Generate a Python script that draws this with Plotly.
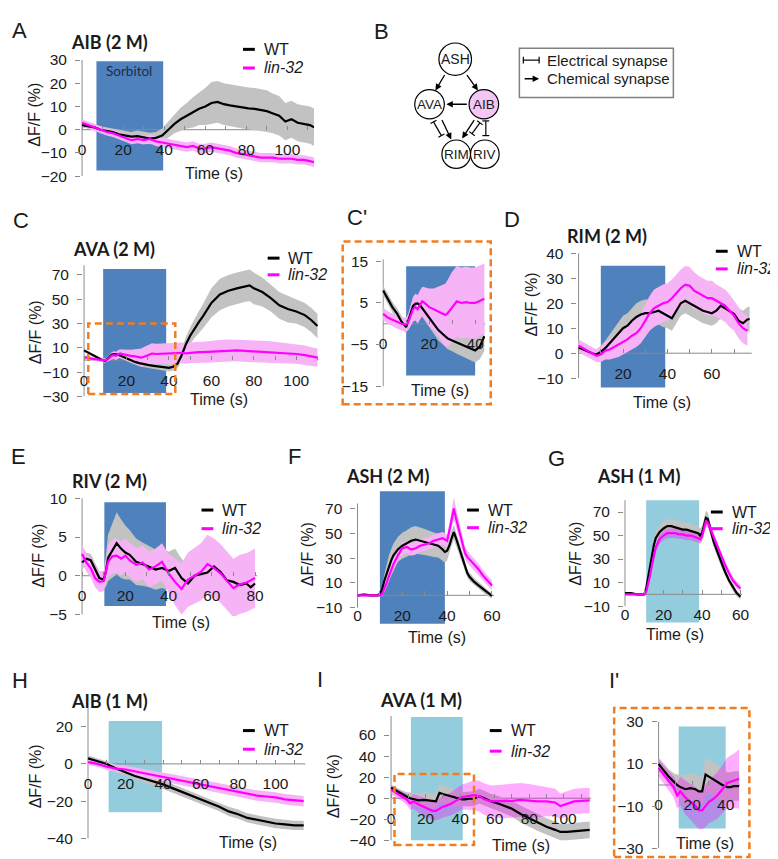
import math
import plotly.graph_objects as go

W, H = 778, 859

# ================= DATA =================
# A: AIB (2 M)
A_t = [0,3,6,9,12,15,18,21,24,27,30,33,36,39,42,45,48,51,54,57,60,63,66,69,72,75,78,81,84,87,90,93,96,99,102,105,108,111,113]
A_wt = [2,1.5,1,0,-0.5,-1,-2,-2.5,-3,-2.8,-3.2,-3.8,-3.5,-2.5,0,2.5,4.5,6,7.5,9,10,11.5,12,11,10.5,10,9.5,9.2,9,8.5,8,7,6,3.5,4.5,3,2.5,2,1]
A_wt_sem = [1,1,1,1.5,1.5,1.5,2,2,2,2.5,2.5,2.5,2.5,3,3.5,4,5,5.5,6.5,7,8,9,9,9,9,9,9,9,9,9,9,8.5,8.5,8,8,8,8,8,8]
A_lin = [3,2,1,0,-1,-1.5,-2.5,-3.5,-4.5,-4,-4.5,-4,-5,-5.5,-6,-6.5,-7,-7.5,-7,-8,-8,-7.5,-8,-8.5,-9,-10,-10.5,-11,-11.5,-12,-12,-12,-12.5,-12.5,-12.5,-13,-13,-13.5,-14]
A_lin_sem = [1.5,1.5,1.5,1.5,1.5,1.6,1.6,1.7,1.8,1.8,1.9,1.9,2,2,2,2,2,2,2,2,2,2,2,2,2,2,2,2,2,2,2,2,2,2,2,2,2,2,2]
A_stim = [7, 39.5]

# C / C': AVA (2 M)
C_t = [0,2,4,6,8,10,11,12,13,14,15,16,17,18,20,22,24,26,27,28,30,32,34,36,38,40,42,44,46,48,50,52,54,56,60,64,68,72,76,78,80,84,88,92,96,100,104,107,110]
C_wt = [8,6,4,2.5,0.5,-0.8,1,3,4.3,4.8,4.9,4.5,3.8,3,1.5,0,-1.5,-2.5,-3,-3.5,-4,-4.5,-5,-5.5,-6,-6.4,-5.5,-3,4,13,20,26,31,36,47,54,57,59,61,61.5,59,56,51,45,42,40,37,33,28]
C_wt_sem = [1.2,1.2,1.3,1.3,1.4,1.5,1.5,1.6,1.8,2,2,2,2.2,2.2,2.3,2.4,2.5,2.5,2.5,2.6,2.6,2.7,2.7,2.8,2.8,2.9,3,3.5,5,6,7,8,9,10,12,13,13,13,13,13,13,12,11,11,11,10,10,10,10]
C_lin = [2.4,1.5,1,0.5,0,-0.2,0.5,2,3.5,4,3.5,4.5,5.4,5,4,3.5,3,2.5,2.1,2.5,4,5.4,5,5.2,5,5,5.5,6,6,5.5,6,6.2,6.5,6.5,7,7.5,8,8,7.5,7.3,7,7,6.5,6,5.5,5,4,3,2]
C_lin_sem = [1.5,1.5,1.5,1.6,1.6,1.7,2,2.5,3,3.2,3.4,3.5,3.5,3.8,4.5,5,6,7,7.5,8,8.5,8.5,8.5,8.5,8.5,8.5,8.5,8.5,8.5,8.5,8.5,8.5,8.5,8.5,9,9,9,9,9,9,9,9,9,8.5,8.5,8,8,7.5,7.5]
C_stim = [9, 38.7]
Cz_stim = [10, 40]

# D: RIM (2 M)
D_t = [0,2,4,6,8,10,12,14,16,18,20,22,24,26,28,30,32,34,36,38,40,42,44,46,48,50,52,54,56,58,60,62,64,66,68,70,72,74,76,77]
D_wt = [2.3,1.5,0.5,0,-0.5,0.5,2,4,6,8,10,11,13,14.5,15.5,16,16,16.5,17,16,15,14,17,20,21,20,19,18,17,16.5,16,17,19,18,17,15.7,13,12,13.5,13.7]
D_wt_sem = [2,2,2,2,2,2.5,3,3.5,4,4.5,5,5,5,5.5,5.5,5.5,5.5,5.5,5.5,5.5,5,5,5,5,5,5,5,5,5,5,5,5,5,5,5,5,5,5,5,5]
D_lin = [3,2,1,0,-1,-0.5,1,1.5,2.5,3.5,4.5,5.5,7,8,10,13,16,18,19,20,20.5,22,24,26,27.4,27,25,24,23,22,22,21,20,19,17,15,12,10,9]
D_lin_sem = [2.5,2.5,2.5,2.5,2.5,3,3.5,4,4.5,5,5,5,5.5,5.5,6,6.5,7,7.5,7.5,7.5,7.5,7.5,7.5,7.5,7.5,7.5,7.5,7,7,7,7,6.5,6.5,6.5,6.5,6,6,6,6]
D_stim = [10, 39]

# E: RIV (2 M)
E_t = [0,2,4,6,8,10,11,12,14,16,18,20,22,25,28,31,34,37,40,43,46,49,52,55,58,61,64,67,70,73,76,78,80]
E_wt = [1.7,2.2,2.0,0.8,-0.3,-0.5,0.5,2.3,3.2,4.2,3.5,3.0,2.7,1.8,1.5,1.2,0.8,1.0,0.6,1.0,-0.3,-1.0,0.0,0.2,0.4,1.2,0.5,-0.6,-0.8,-1.2,-1.0,-1.5,-1.0]
E_wt_sem = [0.8,0.8,0.8,0.8,0.8,1,2,3,3.5,4,3.8,3.5,3.2,3,2.8,2.7,2.6,2.6,2.5,2.5,2.5,2.4,2.4,2.4,2.4,2.3,2.3,2.2,2.2,2.2,2.1,2.1,2.1]
E_lin = [2.8,1.7,1.0,-0.3,-0.8,-0.7,0.5,1.8,2.5,2.6,2.2,2.6,2.0,1.4,1.7,0.8,1.2,1.8,0.3,-0.8,-1.7,-0.5,0.0,0.5,1.5,1.0,0.3,-0.6,-1.6,-1.1,-0.9,-0.6,-0.3]
E_lin_sem = [1.2,1.2,1.2,1.2,1.3,1.3,1.5,2,2.2,2.2,2.2,2.2,2.2,2.2,2.2,2.3,2.3,2.4,2.5,3,3.3,3.5,3.6,3.7,3.8,3.8,3.8,3.8,3.8,3.8,3.8,3.8,3.8]
E_stim = [10.3, 38.8]

# F: ASH (2 M)
F_t = [0,3,6,9,10,11,12,13,14,15,16,18,20,22,24,26,28,30,32,34,36,38,39,40,41,42,43,44,45,46,47,48,49,50,52,54,56,58,60]
F_wt = [0,0.5,0,0,1,5,12,18,24,28,32,37,40,42,44,45,44,43,42,41,40,37,35,36,40,46,51,46,40,34,28,23,18,15,11,8,5,2,-0.5]
F_wt_sem = [1,1,1,1,1.5,3,5,7,8,9,9.5,10,10.5,10.5,11,11,11,10.5,10,10,9.5,9,8.5,8,7,6,6,5,5,4.5,4,4,3.5,3.5,3,3,2.5,2.5,2]
F_lin = [0,0,-0.5,0,0,1,5,10,15,20,25,32,38,39,37,38,40,41,42,44,45,46,45,44,52,62,70,62,55,47,40,34,31,29,25,21,16,12,8]
F_lin_sem = [1,1,1,1,1,1.5,2.5,3.5,4,4.5,5,5,5,5,5,5,5,5,5,5,5,5,5,5,6,7,9,8,7,6,5.5,5,5,5,4.5,4.5,4,4,4]
F_stim = [10, 39]

# G: ASH (1 M)
G_t = [0,3,6,9,10,11,12,13,14,15,16,18,20,22,24,26,28,30,32,34,36,38,39,40,41,42,43,44,45,46,48,50,52,54,56,58,60]
G_wt = [1,1,0,0,0,5,15,25,35,42,48,53,56,58,58,57,56,55,55,54,53,52,50,52,58,65,64,58,52,45,36,27,19,12,6,1,-2]
G_wt_sem = [1,1,1,1,1,2,3,4,5,5,5.5,6,6,6,6,6,6,6,6,6,6,6,6,6,6,6,5.5,5,5,4.5,4,4,3.5,3,3,2.5,2.5]
G_lin = [0,0,0,0,0,2,8,16,25,33,40,47,50,52,52,52,51,51,50,50,49,48,47,49,55,62,61,57,53,48,40,32,25,18,12,8,5]
G_lin_sem = [1,1,1,1,1,1.5,2.5,3,3.5,4,4,4,4,4,4,4,4,4,4,4,4,4,4,4,4,4.5,4.5,4,4,4,3.5,3.5,3,3,3,3,3]
G_stim = [11, 38.5]

# H: AIB (1 M)
H_t = [0,5,10,15,20,25,30,35,40,45,50,55,60,65,70,75,80,85,90,95,100,105,110,115]
H_wt = [3,1.5,0,-2.5,-4.5,-6.5,-8,-9.5,-11,-13,-15,-17,-19,-21,-23,-25.5,-27,-29,-30,-31,-32,-32.5,-33,-33]
H_wt_sem = [1.5,1.5,1.5,1.8,2,2,2,2,2.2,2.2,2.2,2.2,2.4,2.4,2.4,2.5,2.5,2.5,2.5,2.5,2.5,2.5,2.5,2.5]
H_lin = [1,0,-1.5,-2.5,-3,-4,-5,-6,-7,-8,-9,-10,-11,-12,-13,-14,-15,-16,-17,-17.5,-18,-19,-19.5,-20]
H_lin_sem = [1.5,1.5,1.8,2,2,2.2,2.2,2.4,2.4,2.5,2.5,2.5,2.6,2.6,2.6,2.7,2.7,2.7,2.8,2.8,2.8,2.8,2.8,2.8]
H_stim = [11, 39.5]

# I / I': AVA (1 M)
I_t = [0,3,6,9,11,13,16,19,22,24,26,27,28,30,32,35,38,41,43,45,48,51,54,58,62,66,70,75,80,85,90,95,98,102,106,110,115]
I_wt = [10,7,4,1.6,0,-1,-2,-1.5,-2,-3,-3,1,5,4,3,1.5,0,-1,-1,-0.5,-0.5,2,0,-3,-5,-7.5,-10,-15,-19,-23,-27,-30,-32,-32,-31.5,-31,-30]
I_wt_sem = [3,3,3.5,4,5,6,6.5,7,7,7,7,7.5,8,8,8,8,7.5,7,7,7,7,7,7,7,7,7.5,7.5,8,8,8,8,8,8,8,8,8,8]
I_lin = [8,5,2,-1,-5,-3,-6,-8,-10,-12,-12,-11,-10,-8,-7,-5,-2,1,1.5,2,3,2,-1,-3,-3,-3,-2.5,-1.5,-2.5,-3,-3,-4,-7.5,-5,-3,-2.5,-2]
I_lin_sem = [4,4,4.5,5,6,7,8,8.5,9,9,9,9.5,10,10,10.5,11,11.5,12,12.5,13,14,14.5,15,15,15.5,16,16,16,16,15,14,13,12,12,12,12,12]
I_stim = [11.5, 41.5]
Iz_stim = [12, 40]

# ================= STYLE =================
BLUE = '#4f81bd'
TEAL = '#93cddd'
GRAY = '#c2c2c2'
PINK = '#f6b3f6'
PINK_T = 'rgba(255,0,255,0.32)'
MAG = '#ff00ff'
AXC = '#8a8a8a'
ORANGE = '#f07d22'
FONT = 'Liberation Sans'
TFONT = 'Lato'
TXT = '#1a1a1a'

fig = go.Figure()
layout = {}
shapes = []
annos = []


def PX(x):
    return x / W


def PY(y):
    return 1 - y / H


def text(x, y, s, size=15, family=FONT, xanchor='center', angle=0, color=TXT):
    annos.append(dict(x=PX(x), y=PY(y), xref='paper', yref='paper', text=s, showarrow=False,
                      xanchor=xanchor, yanchor='middle', textangle=angle,
                      font=dict(family=family, size=size, color=color)))


def seg(x0, y0, x1, y1, color='black', width=1.2, dash='solid'):
    shapes.append(dict(type='line', xref='paper', yref='paper', x0=PX(x0), y0=PY(y0),
                       x1=PX(x1), y1=PY(y1), line=dict(color=color, width=width, dash=dash)))


def xticks(maxv, skip0=False):
    vals = list(range(0, maxv + 1, 10))
    txt = [str(v) if (v % 20 == 0 and not (skip0 and v == 0)) else '' for v in vals]
    return vals, txt


def add_panel(i, t, wt, wts, lin, lins, stim, stim_col, box_y, geo, xmax_tick, yt, yline,
              pink, skip0=False, tmax=None):
    xs = '' if i == 1 else str(i)
    xa, ya = 'x' + xs, 'y' + xs
    x0, kx, xr, y0, ky, yr = geo
    n = len(t) if tmax is None else len([v for v in t if v <= tmax])
    tw = list(t[:min(n, len(wt))])
    tl = list(t[:min(n, len(lin))])
    wt, wts = wt[:len(tw)], wts[:len(tw)]
    lin, lins = lin[:len(tl)], lins[:len(tl)]

    def band(tt, mean, sem, color):
        up = [m + s for m, s in zip(mean, sem)]
        lo = [m - s for m, s in zip(mean, sem)]
        fig.add_trace(go.Scatter(x=tt + tt[::-1], y=up + lo[::-1], fill='toself', fillcolor=color,
                                 line=dict(width=0), mode='lines', hoverinfo='skip',
                                 xaxis=xa, yaxis=ya))

    band(tw, wt, wts, GRAY)
    band(tl, lin, lins, pink)
    fig.add_trace(go.Scatter(x=tw, y=wt, mode='lines', line=dict(color='black', width=2.2),
                             xaxis=xa, yaxis=ya, hoverinfo='skip'))
    fig.add_trace(go.Scatter(x=tl, y=lin, mode='lines', line=dict(color=MAG, width=2.2),
                             xaxis=xa, yaxis=ya, hoverinfo='skip'))

    xv, xtxt = xticks(xmax_tick, skip0)
    tickfont = dict(family=FONT, size=15.5, color=TXT)
    layout['xaxis' + xs] = dict(domain=[PX(x0 + kx * xr[0]), PX(x0 + kx * xr[1])], range=xr,
                                anchor='free', position=PY(y0), tickvals=xv, ticktext=xtxt,
                                tickmode='array', tickangle=0,
                                ticks='inside', ticklen=4, tickcolor=AXC, tickwidth=1,
                                showline=False, showgrid=False, zeroline=False,
                                tickfont=tickfont, ticklabelstandoff=9, fixedrange=True)
    layout['yaxis' + xs] = dict(domain=[PY(y0 - ky * yr[0]), PY(y0 - ky * yr[1])], range=yr,
                                anchor=xa, tickvals=yt, tickmode='array', tickangle=0,
                                ticks='outside', ticklen=5,
                                tickcolor=AXC, tickwidth=1, showline=False, showgrid=False,
                                zeroline=False, tickfont=tickfont, ticklabelstandoff=5,
                                fixedrange=True)
    # stimulus box
    shapes.append(dict(type='rect', xref=xa, yref=ya, x0=stim[0], x1=stim[1], y0=box_y[0],
                       y1=box_y[1], fillcolor=stim_col, line=dict(width=0), layer='below'))
    # axis lines
    shapes.append(dict(type='line', xref=xa, yref=ya, x0=0, x1=0, y0=yline[0], y1=yline[1],
                       line=dict(color=AXC, width=1), layer='below'))
    shapes.append(dict(type='line', xref=xa, yref=ya, x0=0, x1=xr[1], y0=0, y1=0,
                       line=dict(color=AXC, width=1), layer='below'))
    return xa, ya


# ---- panels ----
add_panel(1, A_t, A_wt, A_wt_sem, A_lin, A_lin_sem, A_stim, BLUE, [-17.5, 29.5],
          (72, 2.08, [-0.5, 113], 115, 2.37, [-20, 30]), 110, [-20, -10, 0, 10, 20, 30],
          [-20, 30], PINK)
xaC, yaC = add_panel(2, C_t, C_wt, C_wt_sem, C_lin, C_lin_sem, C_stim, BLUE, [-27, 75],
                     (74, 2.15, [-0.5, 110.5], 350, 1.24, [-30, 80]), 110,
                     [-30, -10, 10, 30, 50, 70], [-30, 78], PINK)
add_panel(3, C_t, C_wt, C_wt_sem, C_lin, C_lin_sem, Cz_stim, BLUE, [-12.4, 13.8],
          (377, 2.33, [-0.4, 44.5], 313, 4.25, [-15.5, 15.5]), 40, [-15, -5, 5, 15],
          [-15, 15.5], PINK, tmax=44.5)
add_panel(4, D_t, D_wt, D_wt_sem, D_lin, D_lin_sem, D_stim, BLUE, [-13.7, 35],
          (575, 2.25, [-0.5, 78], 343, 2.55, [-14.5, 40.5]), 70,
          [-10, 0, 10, 20, 30, 40], [-10, 40], PINK, skip0=True)
add_panel(5, E_t, E_wt, E_wt_sem, E_lin, E_lin_sem, E_stim, BLUE, [-3.9, 9.5],
          (72, 2.19, [-0.5, 81], 570, 7.9, [-5.2, 10.2]), 80, [-5, 0, 5, 10], [-5, 10], PINK)
add_panel(6, F_t, F_wt, F_wt_sem, F_lin, F_lin_sem, F_stim, BLUE, [-23, 84],
          (351, 2.27, [-0.5, 61], 590, 1.265, [-24, 84.5]), 60, [-10, 10, 30, 50, 70],
          [-10, 74], PINK)
add_panel(7, G_t, G_wt, G_wt_sem, G_lin, G_lin_sem, G_stim, TEAL, [-24, 80],
          (622, 1.95, [-0.5, 61], 589, 1.2, [-25, 81]), 60, [-10, 10, 30, 50, 70],
          [-10, 80], PINK_T)
add_panel(8, H_t, H_wt, H_wt_sem, H_lin, H_lin_sem, H_stim, TEAL, [-26, 23],
          (78, 1.9, [-0.5, 116], 762, 1.9, [-41, 31]), 110, [-40, -20, 0, 20], [-40, 30], PINK)
xaI, yaI = add_panel(9, I_t, I_wt, I_wt_sem, I_lin, I_lin_sem, I_stim, TEAL, [-40, 77],
                     (385, 1.75, [-0.6, 116], 797, 1.075, [-46, 79]), 110,
                     [-40, -20, 0, 20, 40, 60], [-40, 78], PINK_T)
add_panel(10, I_t, I_wt, I_wt_sem, I_lin, I_lin_sem, Iz_stim, TEAL, [-20.7, 27.7],
          (656, 1.7, [-0.6, 48.5], 783.5, 2.15, [-31, 31]), 40, [-30, -10, 10, 30],
          [-30, 30], PINK_T, tmax=48.5)

# zoom-indicator boxes (orange dashed)
shapes.append(dict(type='rect', xref=xaC, yref=yaC, x0=2, x1=43, y0=-28, y1=30,
                   line=dict(color=ORANGE, width=2.5, dash='7px,4px')))
shapes.append(dict(type='rect', xref=xaI, yref=yaI, x0=2, x1=48, y0=-44.5, y1=23,
                   line=dict(color=ORANGE, width=2.5, dash='7px,4px')))
for (bx0, by0, bx1, by1) in [(336, 229, 486, 395), (611, 705, 748, 857)]:
    shapes.append(dict(type='rect', xref='paper', yref='paper', x0=PX(bx0), x1=PX(bx1),
                       y0=PY(by1), y1=PY(by0), line=dict(color=ORANGE, width=2.5, dash='7px,4px')))

# ---- panel letters ----
for s, x, y in [('A', 9, 14), ('B', 375, 15), ('C', 10, 208), ("C'", 350, 205), ('D', 508, 207),
                ('E', 8, 448), ('F', 287, 448), ('G', 553, 450), ('H', 9, 677), ('I', 313, 676),
                ("I'", 611, 677)]:
    text(x, y, s, size=22)

# ---- titles ----
for s, x, y in [('AIB (2 M)', 100, 25), ('AVA (2 M)', 104, 237), ('RIM (2 M)', 604, 223),
                ('RIV (2 M)', 100, 473), ('ASH (2 M)', 381, 468), ('ASH (1 M)', 636, 468),
                ('AIB (1 M)', 100, 698), ('AVA (1 M)', 415, 697)]:
    text(x, y, '<b>' + s + '</b>', size=18, family=TFONT)

# ---- axis titles ----
for x, y in [(23, 100), (25, 322), (527, 293), (27, 550), (300, 548), (572, 548), (25, 775),
             (327, 785)]:
    text(x, y, 'ΔF/F (%)', size=16, angle=-90)
for x, y in [(206, 160), (211, 390), (435, 381), (659, 393), (172, 618), (432, 633), (673, 630),
             (240, 842), (517, 845), (703, 843)]:
    text(x, y, 'Time (s)', size=16)

text(120, 55, 'Sorbitol', size=13.5, family=TFONT, color='#1f2b4d')

# ---- legends ----
for lx, yw, yl in [(235, 33, 52), (260, 246, 263), (714, 239, 257), (193, 503, 522),
                   (462, 503, 521), (709, 505, 522), (235, 728, 747), (485, 728, 749)]:
    seg(lx, yw, lx + 12, yw, color='black', width=3)
    seg(lx, yl, lx + 12, yl, color=MAG, width=3)
    text(lx + 19, yw, 'WT', size=16, xanchor='left')
    text(lx + 19, yl, '<i>lin-32</i>', size=16, xanchor='left')

# ================= B: circuit diagram =================
nodes = {'ASH': (450, 43, 16.5, 'white'), 'AVA': (424, 89, 15, 'white'),
         'AIB': (479, 89, 15, '#f3c6f3'), 'RIM': (451, 140, 14.5, 'white'),
         'RIV': (480, 140, 14.5, 'white')}
for name, (cx, cy, r, fc) in nodes.items():
    shapes.append(dict(type='circle', xref='paper', yref='paper', x0=PX(cx - r), x1=PX(cx + r),
                       y0=PY(cy + r), y1=PY(cy - r), fillcolor=fc,
                       line=dict(color='black', width=1.2)))
    text(cx, cy, name, size=14 if name == 'ASH' else 13.5)


def arrow(tx, ty, hx, hy):
    annos.append(dict(x=PX(hx), y=PY(hy), xref='paper', yref='paper', ax=tx - hx, ay=ty - hy,
                      axref='pixel', ayref='pixel', showarrow=True, arrowhead=2, arrowsize=1,
                      arrowwidth=1.3, arrowcolor='black', text=''))


def elec(xa_, ya_, xb, yb, half=3.5):
    dx, dy = xb - xa_, yb - ya_
    L = math.hypot(dx, dy)
    nx, ny = -dy / L * half, dx / L * half
    seg(xa_, ya_, xb, yb)
    seg(xa_ - nx, ya_ - ny, xa_ + nx, ya_ + ny)
    seg(xb - nx, yb - ny, xb + nx, yb + ny)


arrow(440, 58, 430, 75)     # ASH -> AVA
arrow(461, 58, 473, 75)     # ASH -> AIB
arrow(463, 89, 441, 89)     # AIB -> AVA
arrow(436, 104, 446, 125)   # AVA -> RIM
arrow(470, 104, 457, 124)   # AIB -> RIM
elec(428, 107, 436, 121)    # AVA - RIM
elec(475, 108, 467, 119)    # AIB - RIM
elec(481, 106, 481, 121)    # AIB - RIV

# legend box of B
shapes.append(dict(type='rect', xref='paper', yref='paper', x0=PX(515), x1=PX(671), y0=PY(82),
                   y1=PY(32), line=dict(color='#808080', width=1.5)))
elec(519, 44, 535, 44, half=3.5)
arrow(519, 63, 535, 63)
text(541, 44, 'Electrical synapse', size=15, xanchor='left')
text(541, 63, 'Chemical synapse', size=15, xanchor='left')

layout.update(dict(width=W, height=H, margin=dict(l=0, r=0, t=0, b=0), showlegend=False,
                   plot_bgcolor='rgba(0,0,0,0)', paper_bgcolor='white', shapes=shapes,
                   annotations=annos))
fig.update_layout(**layout)
fig.write_html('out.html')
